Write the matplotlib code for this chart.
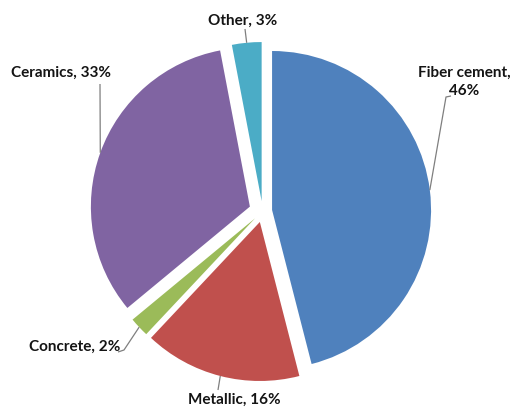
import numpy as np
import matplotlib
matplotlib.use("Agg")
import matplotlib.pyplot as plt

# Roofing material shares (%)
categories = ["Fiber cement", "Metallic", "Concrete", "Ceramics", "Other"]
shares = [46, 16, 2, 33, 3]
colors = ["#4F81BD", "#C0504D", "#9BBB59", "#8064A2", "#4BACC6"]
explode_frac = [0.06, 0.07, 0.065, 0.085, 0.064]

W, H = 514, 408
fig = plt.figure(figsize=(W / 100, H / 100), dpi=100)
ax = fig.add_axes([0, 0, 1, 1])

center = (262.6, H - 211.2)
radius = 159
# matplotlib offsets exploded wedges in data units, so scale by the radius
explode = [f * radius for f in explode_frac]
wedges, _ = ax.pie(shares, colors=colors, explode=explode, startangle=90,
                   counterclock=False, center=center, radius=radius,
                   wedgeprops=dict(linewidth=0))

ax.set_xlim(0, W)
ax.set_ylim(0, H)
ax.set_aspect("equal")
ax.axis("off")

# label anchor (text centre) and the elbow of each leader line, in pixels (y down)
label_pos = {
    "Fiber cement": (464, 82),
    "Metallic": (234, 400),
    "Concrete": (75, 347),
    "Ceramics": (61, 73),
    "Other": (243, 21),
}
leader_start = {
    "Fiber cement": [(451, 96), (446, 97)],
    "Metallic": [(218, 390)],
    "Concrete": [(118, 352), (124, 350)],
    "Ceramics": [(100, 84)],
    "Other": [(245, 29)],
}

font = dict(family=["Lato", "DejaVu Sans"], weight="bold", size=11,
            color="#141414")

for w, name, val in zip(wedges, categories, shares):
    mid = np.deg2rad((w.theta1 + w.theta2) / 2)
    px = w.center[0] + w.r * np.cos(mid)
    py = w.center[1] + w.r * np.sin(mid)
    pts = [(x, H - y) for x, y in leader_start[name]] + [(px, py)]
    xs, ys = zip(*pts)
    ax.plot(xs, ys, color="#7f7f7f", lw=0.9, solid_capstyle="butt")

    lx, ly = label_pos[name]
    if name == "Fiber cement":
        text = f"{name},\n{val}%"
    else:
        text = f"{name}, {val}%"
    ax.text(lx, H - ly, text, ha="center", va="center", linespacing=1.45,
            **font)

fig.savefig("out.png", dpi=100, facecolor="white")
